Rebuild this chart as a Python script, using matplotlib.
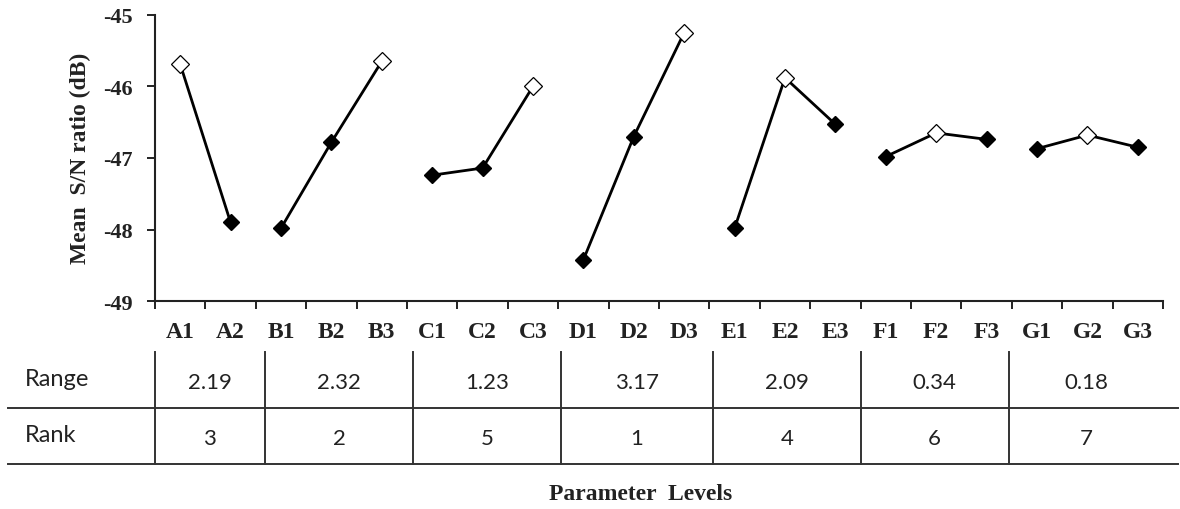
import matplotlib
matplotlib.use("Agg")
import matplotlib.pyplot as plt
from matplotlib.lines import Line2D
from matplotlib import transforms

# ---- data ----
factors = ["A", "B", "C", "D", "E", "F", "G"]
A_vals = [-45.69, -47.90]
B_vals = [-47.98, -46.78, -45.65]
C_vals = [-47.24, -47.14, -46.00]
D_vals = [-48.42, -46.70, -45.25]
E_vals = [-47.98, -45.88, -46.53]
F_vals = [-46.98, -46.65, -46.74]
G_vals = [-46.87, -46.68, -46.85]
series = [A_vals, B_vals, C_vals, D_vals, E_vals, F_vals, G_vals]
range_labels = ["2.19", "2.32", "1.23", "3.17", "2.09", "0.34", "0.18"]
rank_labels = ["3", "2", "5", "1", "4", "6", "7"]
yticks = [-49, -48, -47, -46, -45]

# ---- layout ----
W, H = 1180, 510
fig = plt.figure(figsize=(W / 100, H / 100), dpi=100)
fig.patch.set_facecolor("white")
L, R, T, B = 155, 1163, 15.7, 302.3
ax = fig.add_axes([L / W, 1 - B / H, (R - L) / W, (B - T) / H])

serif = ["Liberation Serif", "DejaVu Serif"]
sans = ["Lato", "DejaVu Sans"]
tc = "#222222"

level_labels = []
start = 0
for f, vals in zip(factors, series):
    xs = [start + i + 0.5 for i in range(len(vals))]
    level_labels += [f"{f}{i + 1}" for i in range(len(vals))]
    ax.plot(xs, vals, color="black", lw=2.0, zorder=2)
    imax = max(range(len(vals)), key=lambda i: vals[i])
    fx = [x for i, x in enumerate(xs) if i != imax]
    fy = [v for i, v in enumerate(vals) if i != imax]
    ax.plot(fx, fy, ls="none", marker="D", ms=8.5, mfc="black", mec="black", zorder=3)
    ax.plot([xs[imax]], [vals[imax]], ls="none", marker="D", ms=9.5,
            mfc="white", mec="black", mew=0.9, zorder=4)
    start += len(vals)
n = start

ax.set_xlim(0, n)
ax.set_ylim(-49, -45)
ax.set_yticks(yticks)
ax.set_yticklabels([str(v) for v in yticks], fontfamily=serif, fontsize=16,
                   fontweight="bold", color=tc)
ax.set_xticks(range(n + 1))
ax.set_xticklabels([])
ax.set_xticks([i + 0.5 for i in range(n)], minor=True)
ax.set_xticklabels(level_labels, minor=True, fontfamily=serif, fontsize=17,
                   fontweight="bold", color=tc)
ax.tick_params(axis="x", which="minor", length=0, pad=14)
ax.tick_params(axis="x", which="major", length=6, width=1.4, direction="out",
               color=tc)
ax.tick_params(axis="y", length=6, width=1.4, direction="out", color=tc,
               pad=10)
for s in ["top", "right"]:
    ax.spines[s].set_visible(False)
for s in ["left", "bottom"]:
    ax.spines[s].set_linewidth(1.5)
    ax.spines[s].set_color(tc)

fig.text(80 / W, 1 - 158 / H, "Mean  S/N ratio (dB)", rotation=90,
         ha="center", va="center", fontfamily=serif, fontsize=17,
         fontweight="bold", color=tc)

# ---- table below ----
col_edges = [0, 2.18, 5.12, 8.05, 11.07, 14.0, 16.94, 20]
bt = transforms.blended_transform_factory(ax.transData, fig.transFigure)
lc = "#333333"
for yy in [409, 465]:
    fig.add_artist(Line2D([8 / W, 1178 / W], [1 - yy / H, 1 - yy / H],
                          transform=fig.transFigure, color=lc, lw=1.4))
for xe in col_edges[:-1]:
    fig.add_artist(Line2D([xe, xe], [1 - 353 / H, 1 - 465 / H],
                          transform=bt, color=lc, lw=1.4))
fig.text(25 / W, 1 - 380 / H, "Range", ha="left", va="center",
         fontfamily=sans, fontsize=17, color=tc)
fig.text(25 / W, 1 - 436 / H, "Rank", ha="left", va="center",
         fontfamily=sans, fontsize=17, color=tc)
for i in range(len(factors)):
    cx = (col_edges[i] + col_edges[i + 1]) / 2
    fig.text(cx, 1 - 383 / H, range_labels[i], transform=bt, ha="center",
             va="center", fontfamily=sans, fontsize=16, color=tc)
    fig.text(cx, 1 - 439 / H, rank_labels[i], transform=bt, ha="center",
             va="center", fontfamily=sans, fontsize=16, color=tc)

fig.text(641 / W, 1 - 495 / H, "Parameter  Levels", ha="center", va="center",
         fontfamily=serif, fontsize=17, fontweight="bold", color=tc)

fig.savefig("out.png", dpi=100, facecolor="white")
